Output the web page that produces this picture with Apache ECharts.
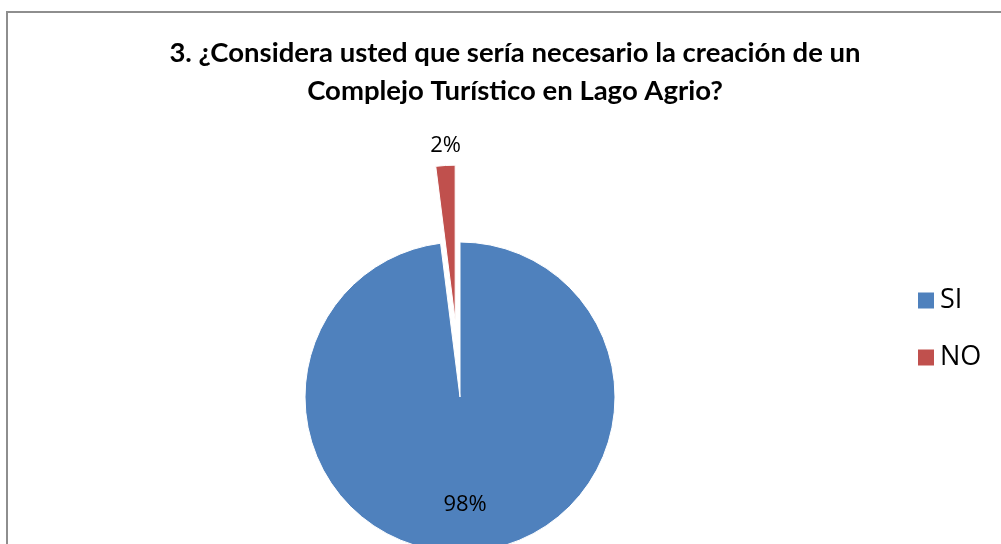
<!DOCTYPE html>
<html>
<head>
<meta charset="utf-8">
<script src="https://cdn.jsdelivr.net/npm/echarts@6/dist/echarts.min.js"></script>
<style>
  html, body { margin: 0; padding: 0; background: #fff; }
  #chart { width: 1001px; height: 544px; }
</style>
</head>
<body>
<div id="chart"></div>
<script>
// answers to question 3
const categories = ['SI', 'NO']
const percents = [98, 2]
const colors = ['#4F81BD', '#C0504D']

const chart = echarts.init(document.getElementById('chart'))

chart.setOption({
  animation: false,
  title: {
    text: '3. ¿Considera usted que sería necesario la creación de un\nComplejo Turístico en Lago Agrio?',
    left: 510,
    top: 29,
    textAlign: 'center',
    textStyle: {
      fontFamily: 'Lato',
      fontWeight: 'bold',
      fontSize: 27.5,
      lineHeight: 38,
      color: '#000'
    }
  },
  legend: {
    orient: 'vertical',
    left: 911,
    top: 282,
    icon: 'rect',
    itemWidth: 18,
    itemHeight: 18,
    itemGap: 30,
    selectedMode: false,
    data: categories,
    textStyle: {
      fontFamily: 'Open Sans',
      fontSize: 27,
      color: '#000'
    }
  },
  graphic: [{
    type: 'rect',
    shape: { x: 7, y: 12, width: 1100, height: 600 },
    style: { fill: 'none', stroke: '#8e8e8e', lineWidth: 2 },
    silent: true
  }],
  series: [{
    type: 'pie',
    center: [460, 397],
    radius: 155,
    startAngle: 90,
    clockwise: true,
    selectedMode: 'single',
    selectedOffset: 77,
    label: {
      formatter: '{d}%',
      fontFamily: 'Open Sans',
      fontSize: 22,
      color: '#000'
    },
    labelLine: { show: false },
    itemStyle: { borderColor: '#fff', borderWidth: 1 },
    labelLayout: function (params) {
      if (params.dataIndex === 0) return { dy: 27 }
      return { dx: 16, dy: -12 }
    },
    data: categories.map(function (name, i) {
      return {
        name: name,
        value: percents[i],
        selected: i === 1,
        itemStyle: { color: colors[i] },
        label: i === 0
          ? { position: 'inside' }
          : { position: 'outside', distanceToLabelLine: 0 },
        labelLine: { length: 8, length2: 0 }
      }
    })
  }]
})
</script>
</body>
</html>
